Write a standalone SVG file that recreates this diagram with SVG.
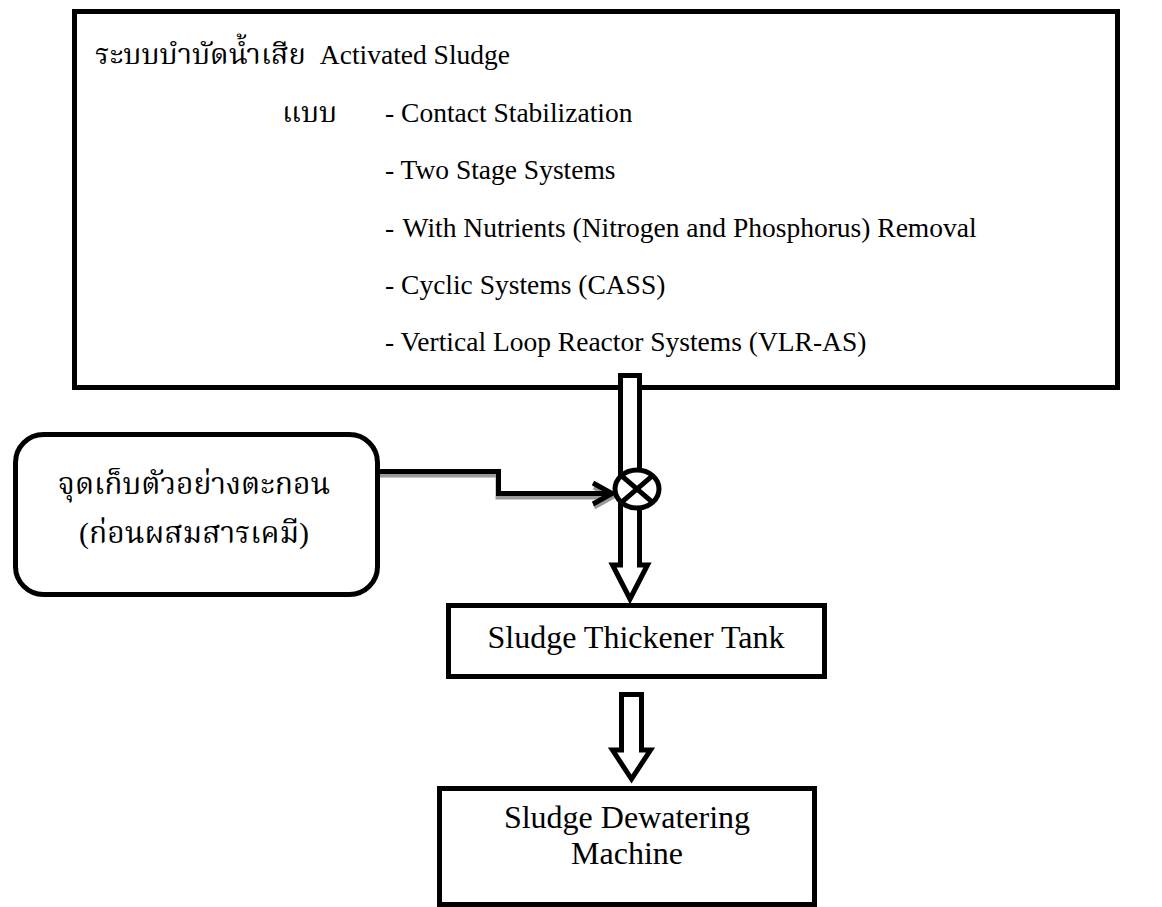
<svg xmlns="http://www.w3.org/2000/svg" width="1162" height="907" viewBox="0 0 1162 907">
<style>
.box{fill:#fff;stroke:#000;stroke-width:5}
.t{font-family:"Liberation Serif","Times New Roman","Noto Serif Thai","Noto Sans Thai",serif;fill:#000}
.ln{fill:none;stroke:#000;stroke-width:5}
.sh{fill:none;stroke:#9a9a9a;stroke-width:5}
.hollow{fill:#fff;stroke:#000;stroke-width:5;stroke-linejoin:miter}
</style>
<rect width="1162" height="907" fill="#fff"/>
<g id="main-box">
<rect class="box" x="74.5" y="11.5" width="1043" height="376"/>
<text class="t" x="95" y="64" font-size="29">ระบบบำบัดน้ำเสีย<tspan dx="14" font-size="27.5">Activated Sludge</tspan></text>
<text class="t" x="282" y="122" font-size="29">แบบ</text>
<text class="t" x="385" y="122" font-size="27.5">- Contact Stabilization</text>
<text class="t" x="385" y="179" font-size="27.5">- Two Stage Systems</text>
<text class="t" x="385" y="237" font-size="27.5">- <tspan dx="2">With Nutrients (Nitrogen and Phosphorus) Removal</tspan></text>
<text class="t" x="385" y="294" font-size="27.5">- Cyclic Systems (CASS)</text>
<text class="t" x="385" y="351" font-size="27.5">- Vertical Loop Reactor Systems (VLR-AS)</text>
</g>
<g id="sample-point">
<rect class="box" x="15.5" y="434.5" width="362" height="160" rx="28" ry="28"/>
<text class="t" x="194" y="494" font-size="30" text-anchor="middle">จุดเก็บตัวอย่างตะกอน</text>
<text class="t" x="194" y="543" font-size="30" text-anchor="middle">(ก่อนผสมสารเคมี)</text>
</g>
<g id="thickener">
<rect class="box" x="448.5" y="605.5" width="376" height="71"/>
<text class="t" x="636" y="648" font-size="32" text-anchor="middle">Sludge Thickener Tank</text>
</g>
<g id="dewatering">
<rect class="box" x="439.5" y="788.5" width="375" height="116"/>
<text class="t" x="627" y="828" font-size="32" text-anchor="middle">Sludge Dewatering</text>
<text class="t" x="627" y="864" font-size="32" text-anchor="middle">Machine</text>
</g>
<g id="connectors">
<path class="sh" d="M380,475 H498 V497 H610"/>
<path class="sh" d="M594,487 L612,497 L594,507"/>
<path class="ln" d="M380,471.5 H498.5 V493.5 H611"/>
<path class="ln" d="M593,483 L612,493.5 L593,504"/>
<path class="hollow" d="M620.5,375.5 V565 H612.5 L630,599 L647.5,565 H639.5 V375.5 Z"/>
<ellipse cx="637" cy="489" rx="22" ry="19" fill="#fff" stroke="#000" stroke-width="5"/>
<path class="ln" d="M621.4,475.6 L652.6,502.4 M652.6,475.6 L621.4,502.4"/>
<path class="hollow" d="M621.5,694.5 V750 H612.5 L631.5,779 L650.5,750 H641.5 V694.5 Z"/>
</g>
</svg>
